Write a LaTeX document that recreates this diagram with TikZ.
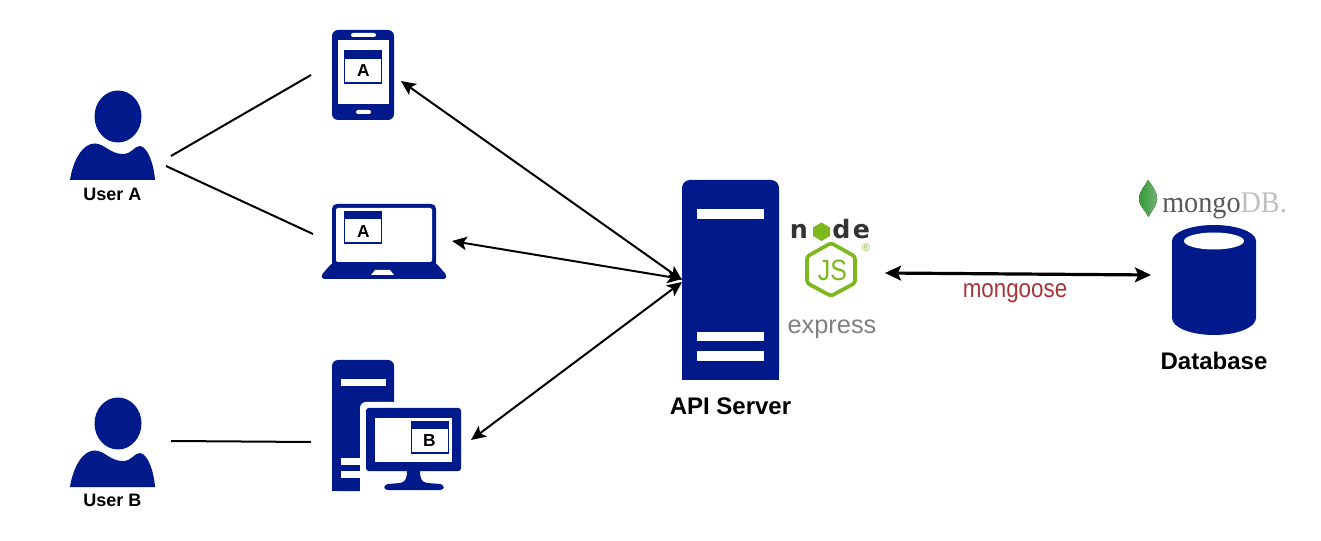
\documentclass[tikz,border=0pt]{standalone}
\usepackage{fontspec}
\usepackage{graphicx}
\setmainfont{Liberation Sans}
\newfontfamily\serifF{Liberation Serif}
\newfontfamily\dejaF{DejaVu Sans}
\usetikzlibrary{arrows.meta}
\definecolor{navy}{HTML}{001A8C}
\definecolor{jsgreen}{HTML}{7FB81E}
\definecolor{nodegray}{HTML}{333333}
\definecolor{goosered}{HTML}{A8343A}
\newcommand{\fs}[1]{\fontsize{#1}{#1}\selectfont}
\tikzset{
  navyfill/.style={fill=navy,draw=none},
  hole/.style={fill=white,draw=none},
  userlabel/.style={font=\fs{13.5}\bfseries,text=black,inner sep=0pt},
  biglabel/.style={font=\fs{18}\bfseries,text=black,inner sep=0pt},
  winlabel/.style={font=\fs{13}\bfseries,text=black,inner sep=0pt},
  plainline/.style={draw=black,line width=1.5pt},
  biarrow/.style={draw=black,line width=1.5pt,{Stealth[length=11pt,width=10pt,inset=2.5pt]}-{Stealth[length=11pt,width=10pt,inset=2.5pt]}},
  bigarrow/.style={draw=black,line width=2.4pt,{Stealth[length=12pt,width=11pt,inset=2.5pt]}-{Stealth[length=12pt,width=11pt,inset=2.5pt]}},
}
\begin{document}
\begin{tikzpicture}[x=0.75pt,y=-0.75pt]
\useasboundingbox (0,0) rectangle (1321,541);
\fill[white] (0,0) rectangle (1321,541);

% --- users
\fill[navyfill] (118,116.5) ellipse [x radius=23.5,y radius=26];
\fill[navyfill] (70,180) .. controls (73,160) and (83,143) .. (95,143.5) .. controls (105,144) and (110,154) .. (123,154) .. controls (132,154) and (134,146) .. (140,146) .. controls (148,147) and (154,165) .. (155,180) -- cycle;
\node[userlabel] (userA) at (112.5,194) {User A};

\fill[navyfill] (118,423.5) ellipse [x radius=23.5,y radius=26];
\fill[navyfill] (70,487) .. controls (73,467) and (83,450) .. (95,450.5) .. controls (105,451) and (110,461) .. (123,461) .. controls (132,461) and (134,453) .. (140,453) .. controls (148,454) and (154,472) .. (155,487) -- cycle;
\node[userlabel] (userB) at (112.5,500) {User B};

% --- phone
\fill[navyfill,rounded corners=4.5pt] (332,30) rectangle (394,120);
\fill[hole] (338,40) rectangle (389,104);
\fill[hole,rounded corners=1.5pt] (351,33) rectangle (376,37);
\fill[hole,rounded corners=1.5pt] (356,110) rectangle (371,114);
\fill[white,draw=navy,line width=0.9pt] (344.5,50.5) rectangle (381.5,83);
\fill[navyfill] (344,50) rectangle (382,59);
\node[winlabel] (winA1) at (363.5,71) {A};

% --- laptop
\fill[navyfill,rounded corners=3.5pt] (332,204) rectangle (436,268);
\fill[hole,rounded corners=1.5pt] (336,208) rectangle (432,262);
\fill[navyfill,rounded corners=2pt] (332,263) -- (436,263) -- (446.5,275) -- (446,279) -- (322,279) -- (321.5,275) -- cycle;
\fill[hole] (375,270) -- (390,270) -- (394,275) -- (371,275) -- cycle;
\fill[white,draw=navy,line width=0.9pt] (344.5,211.5) rectangle (381.5,243);
\fill[navyfill] (344,211) rectangle (382,219);
\node[winlabel] (winA2) at (363.5,231.5) {A};

% --- desktop
\fill[navyfill,rounded corners=4.5pt] (332,491) -- (332,360) -- (394,360) -- (394,491) -- cycle;
\fill[navyfill] (332,480) rectangle (394,491);
\fill[hole] (341,379) rectangle (386,386);
\fill[hole] (341,458) rectangle (362,465);
\fill[hole] (341,471) rectangle (395,478);
\fill[hole,rounded corners=4.5pt] (360,402) rectangle (470,500);
\fill[hole] (378,478) rectangle (470,500);
\fill[navyfill,rounded corners=2pt] (366,408) rectangle (461,471);
\fill[hole] (375,418) rectangle (452,462);
\fill[navyfill] (407,470) .. controls (407,478) and (406,482) .. (400,483) -- (388,484) .. controls (383,485) and (383,490) .. (388,490) -- (440,490) .. controls (445,490) and (445,485) .. (440,484) -- (427,483) .. controls (421,482) and (420,478) .. (420,470) -- cycle;
\fill[white,draw=navy,line width=0.9pt] (411.5,421.5) rectangle (448.5,453);
\fill[navyfill] (411,421) rectangle (449,429);
\node[winlabel] (winB) at (429.5,441) {B};

% --- server
\fill[navyfill,rounded corners=6pt] (682,380) -- (682,180) -- (779,180) -- (779,380) -- cycle;
\fill[navyfill] (682,360) rectangle (779,380);
\fill[hole] (697,209) rectangle (764,219);
\fill[hole] (697,332) rectangle (764,341);
\fill[hole] (697,351) rectangle (764,361);
\node[biglabel] (api) at (730.5,406) {API Server};

% --- node logo
\node[font=\dejaF\bfseries\fs{19},text=nodegray,inner sep=0pt,anchor=base] (nodeN) at (799,239) {n};
\node[font=\dejaF\bfseries\fs{19},text=nodegray,inner sep=0pt,anchor=base] (nodeD) at (841.5,239) {d};
\node[font=\dejaF\bfseries\fs{19},text=nodegray,inner sep=0pt,anchor=base] (nodeE) at (861.5,239) {e};
\fill[jsgreen] (821.5,222.5) -- (830,227.5) -- (830,236) -- (821.5,241) -- (813,236) -- (813,227.5) -- cycle;
\draw[jsgreen,line width=2.8pt,line join=round,rounded corners=2pt] (831,243) -- (855,256.5) -- (855,283) -- (831,296) -- (807,283) -- (807,256.5) -- cycle;
\node[font=\fs{22},text=jsgreen,inner sep=0pt,anchor=base] (js) at (832.5,280.5) {\scalebox{0.85}[1]{JS}};
\node[font=\fs{8},text=jsgreen,inner sep=0pt] (reg) at (866,247.5) {®};
\node[font=\fs{19},text=black!50,inner sep=0pt,anchor=base] (express) at (832,333.5) {express};

% --- mongoose
\node[font=\fs{19.5},text=goosered,inner sep=0pt,anchor=base] (goose) at (1015,298) {\scalebox{0.86}[1]{mongoose}};

% --- mongoDB logo
\fill[left color=green!50!black!80!white,right color=green!45!black!55!white] (1148,180) .. controls (1153,187) and (1157.5,192) .. (1157,200) .. controls (1156.5,207) and (1151,211) .. (1148.5,217) .. controls (1146,211) and (1139.5,207) .. (1139,199) .. controls (1139,192) and (1144,187) .. (1148,180) -- cycle;
\node[font=\serifF\fs{22.5},inner sep=0pt,anchor=base west] (mongo) at (1162,213) {\scalebox{0.94}[1]{\textcolor{black!65}{mongo}\textcolor{black!25}{DB.}}};

% --- database
\fill[navyfill] (1172,241) arc [start angle=180,end angle=360,x radius=42,y radius=16] -- (1256,318) arc [start angle=0,end angle=180,x radius=42,y radius=17] -- cycle;
\fill[hole] (1214,241) ellipse [x radius=30,y radius=8.5];
\node[biglabel] (db) at (1214,361) {Database};

% --- connector ends
\coordinate (uA1) at (171,156);
\coordinate (phoneL) at (311,75);
\coordinate (uA2) at (166,166);
\coordinate (laptopL) at (313,234);
\coordinate (uB1) at (171,441);
\coordinate (deskL) at (311,442);
\coordinate (phoneR) at (401,81);
\coordinate (laptopR) at (452,241);
\coordinate (deskR) at (471,440);
\coordinate (srvA) at (682,280);
\coordinate (srvB) at (682,279);
\coordinate (srvC) at (682,282);
\coordinate (srvR) at (885,273);
\coordinate (dbL) at (1151,275);

\draw[plainline] (uA1) -- (phoneL);
\draw[plainline] (uA2) -- (laptopL);
\draw[plainline] (uB1) -- (deskL);
\draw[biarrow] (phoneR) -- (srvA);
\draw[biarrow] (laptopR) -- (srvB);
\draw[biarrow] (deskR) -- (srvC);
\draw[bigarrow] (srvR) -- (dbL);
\end{tikzpicture}
\end{document}
